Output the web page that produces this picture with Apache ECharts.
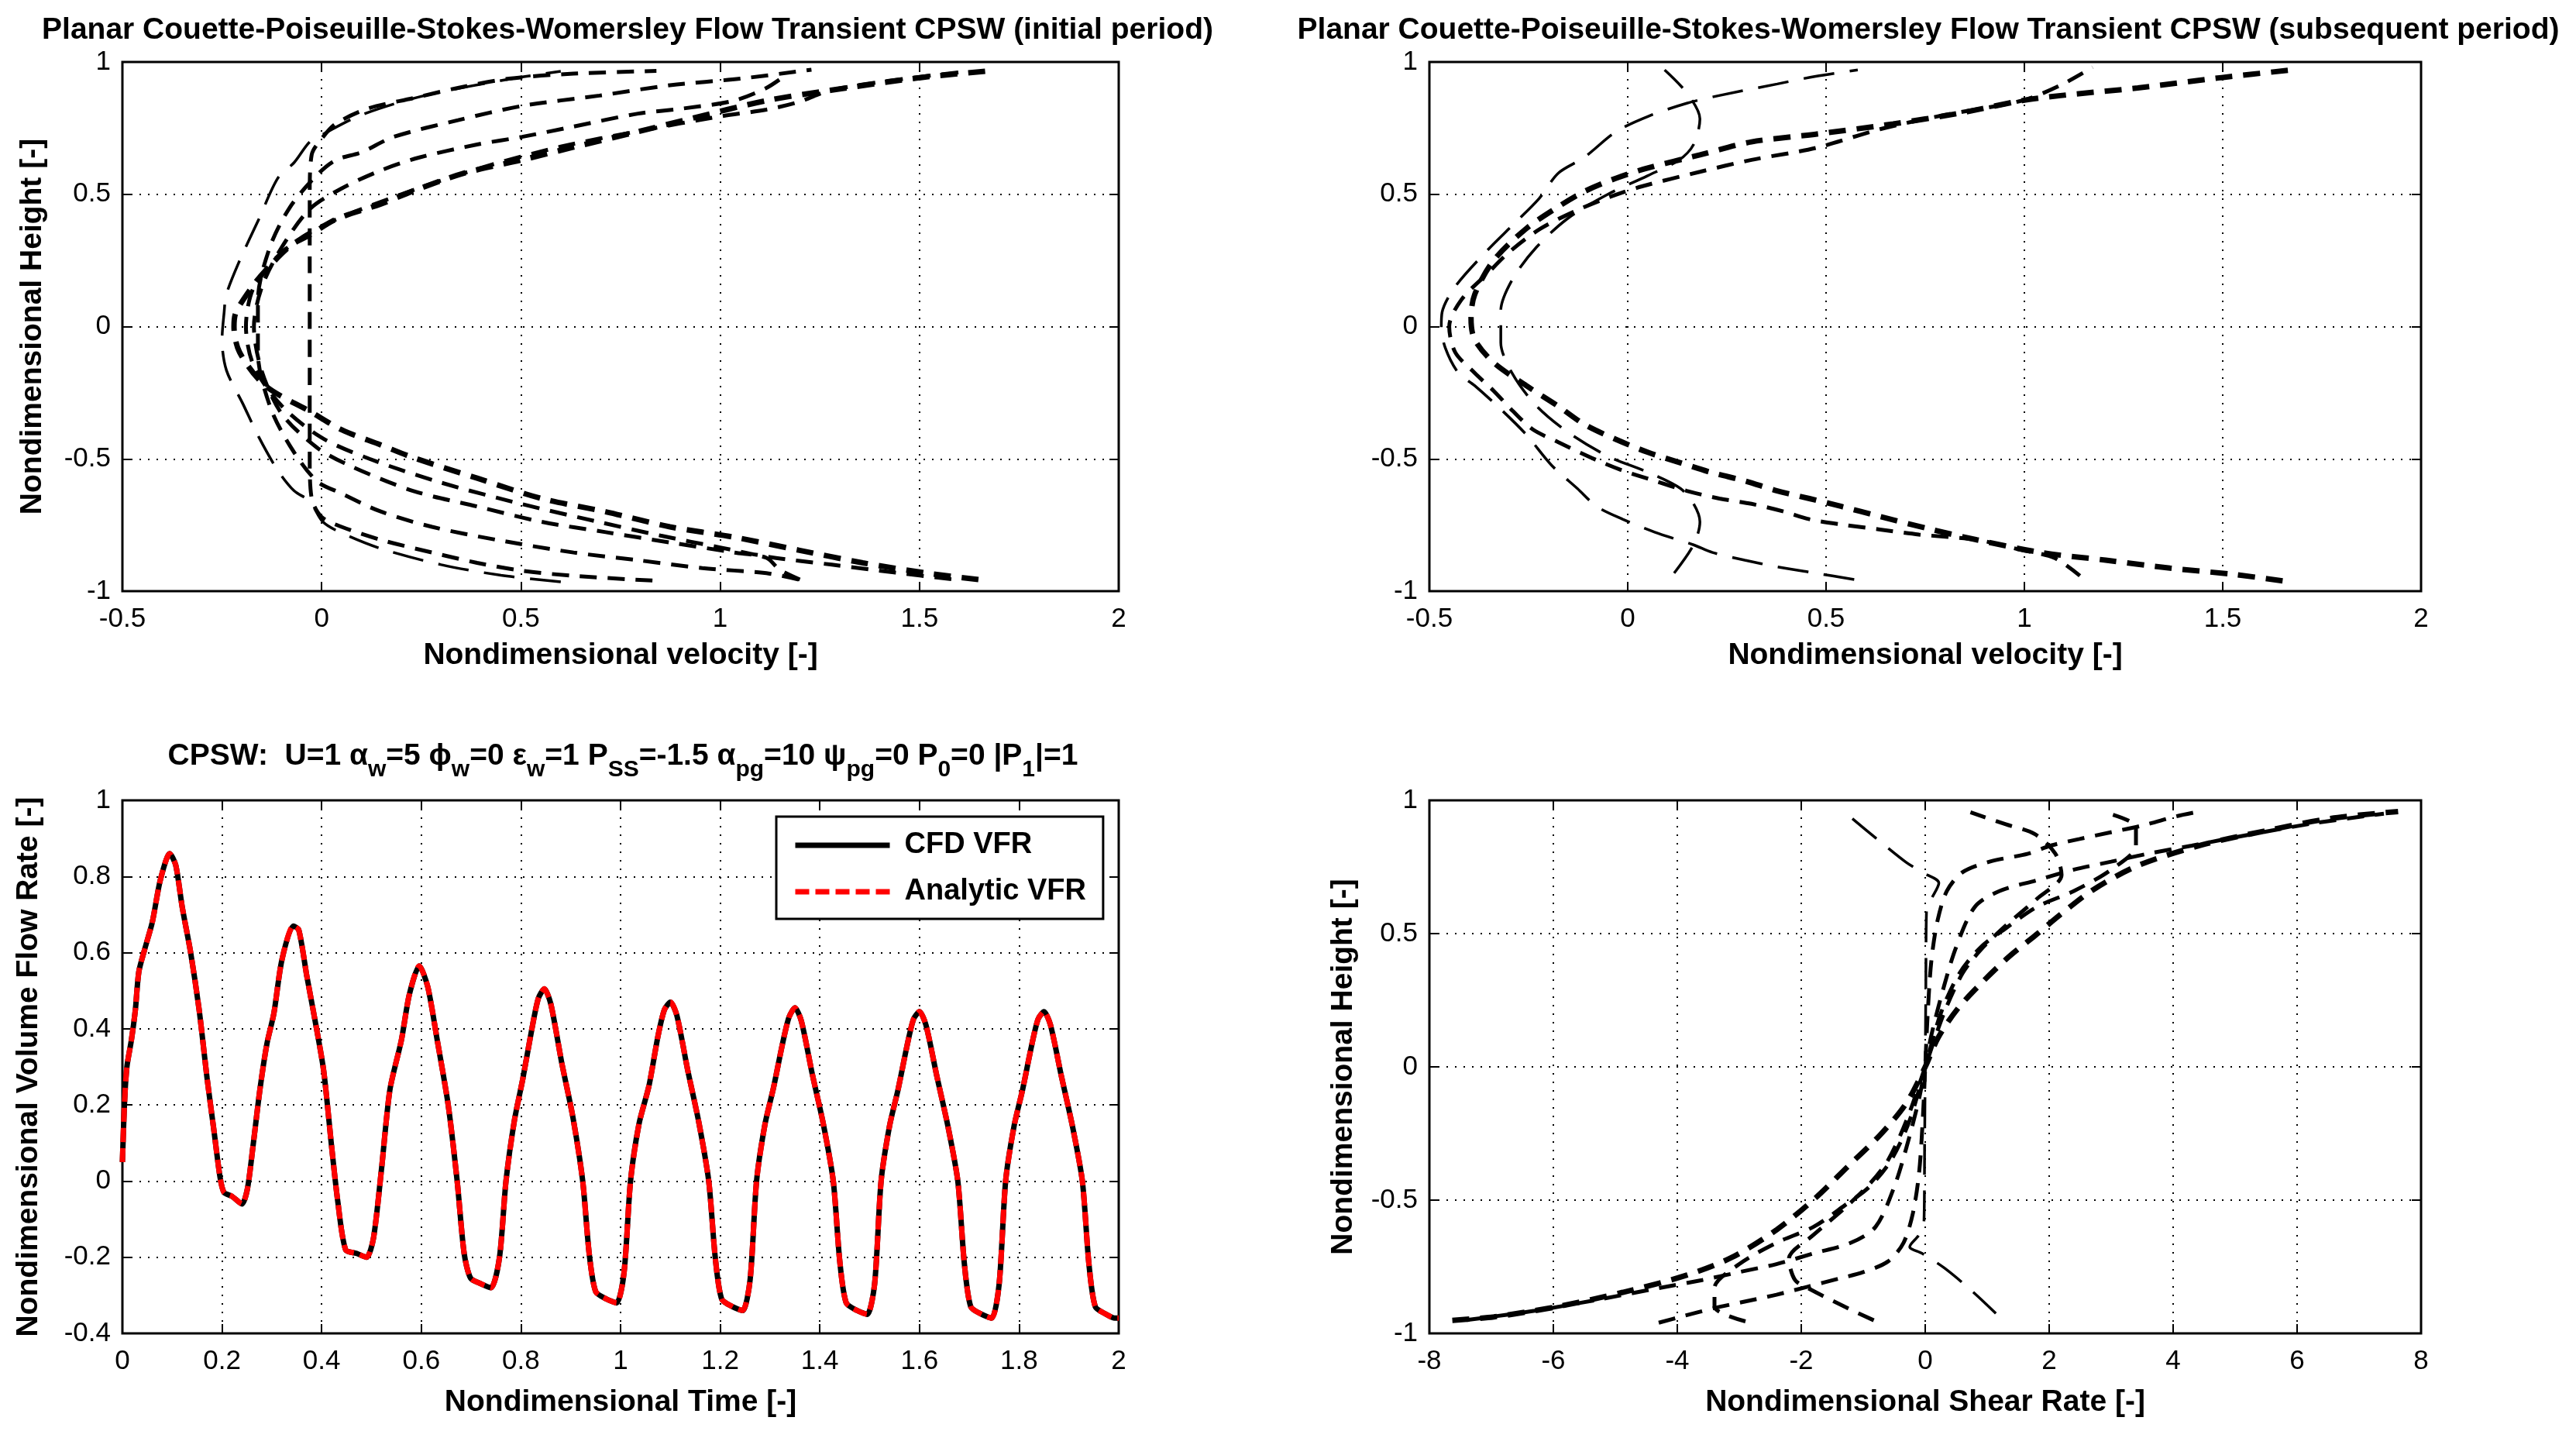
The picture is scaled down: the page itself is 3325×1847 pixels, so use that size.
<!DOCTYPE html>
<html>
<head>
<meta charset="utf-8">
<script src="https://cdn.jsdelivr.net/npm/echarts@6/dist/echarts.min.js"></script>
<style>
html, body { margin: 0; padding: 0; background: #fff; }
#chart { width: 3325px; height: 1847px; }
</style>
</head>
<body>
<div id="chart"></div>
<script>
// velocity profiles, initial period: [velocity, height]
const init1 = [[0.83,-0.96],[0.63,-0.942],[0.5,-0.922],[0.39,-0.893],[0.277,-0.854],[0.148,-0.806],[0.05,-0.757],[0.0,-0.72],[-0.025,-0.65],[-0.03,-0.5],[-0.03,-0.25],[-0.03,0],[-0.03,0.25],[-0.03,0.5],[-0.025,0.65],[0.0,0.71],[0.035,0.766],[0.116,0.824],[0.229,0.863],[0.342,0.902],[0.47,0.937],[0.632,0.956],[0.84,0.966]]
const init2 = [[0.6,-0.965],[0.45,-0.94],[0.3,-0.9],[0.15,-0.84],[0.05,-0.78],[0.003,-0.738],[-0.03,-0.66],[-0.069,-0.621],[-0.11,-0.544],[-0.158,-0.417],[-0.198,-0.291],[-0.239,-0.165],[-0.25,-0.05],[-0.245,0.05],[-0.239,0.122],[-0.206,0.249],[-0.158,0.405],[-0.11,0.561],[-0.069,0.62],[-0.03,0.698],[0.003,0.727],[0.1,0.8],[0.25,0.87],[0.45,0.93],[0.6,0.965]]
const init3 = [[1.197,-0.956],[1.116,-0.932],[0.955,-0.913],[0.794,-0.883],[0.632,-0.854],[0.439,-0.806],[0.277,-0.757],[0.148,-0.699],[0.05,-0.631],[-0.013,-0.583],[-0.08,-0.45],[-0.13,-0.3],[-0.16,-0.1],[-0.16,0.1],[-0.13,0.3],[-0.08,0.45],[-0.013,0.571],[0.035,0.629],[0.1,0.659],[0.181,0.717],[0.342,0.78],[0.503,0.834],[0.697,0.873],[0.874,0.912],[1.05,0.937],[1.229,0.971]]
const init4 = [[1.2,-0.956],[1.15,-0.92],[1.116,-0.874],[1.035,-0.854],[0.874,-0.816],[0.713,-0.777],[0.552,-0.738],[0.39,-0.68],[0.229,-0.621],[0.068,-0.524],[-0.013,-0.456],[-0.1,-0.33],[-0.15,-0.17],[-0.17,0],[-0.15,0.15],[-0.1,0.3],[-0.03,0.444],[0.05,0.522],[0.148,0.59],[0.245,0.639],[0.39,0.688],[0.503,0.717],[0.632,0.756],[0.794,0.805],[0.906,0.824],[1.035,0.854],[1.116,0.902],[1.165,0.951]]
const init5 = [[1.648,-0.956],[1.519,-0.932],[1.358,-0.893],[1.197,-0.845],[1.035,-0.796],[0.874,-0.757],[0.713,-0.7],[0.552,-0.65],[0.39,-0.573],[0.229,-0.495],[0.148,-0.447],[0.05,-0.39],[-0.03,-0.32],[-0.142,-0.223],[-0.206,-0.097],[-0.22,0],[-0.215,0.054],[-0.174,0.151],[-0.142,0.21],[-0.077,0.307],[-0.03,0.346],[0.035,0.405],[0.148,0.463],[0.229,0.512],[0.358,0.58],[0.503,0.63],[0.632,0.678],[0.794,0.737],[0.923,0.785],[1.116,0.854],[1.277,0.893],[1.503,0.941],[1.673,0.966]]
const init6 = [[1.58,-0.955],[1.44,-0.93],[1.28,-0.9],[1.12,-0.87],[1.0,-0.835],[0.85,-0.79],[0.7,-0.74],[0.5,-0.67],[0.3,-0.59],[0.12,-0.5],[0.0,-0.42],[-0.1,-0.3],[-0.17,-0.15],[-0.19,0],[-0.17,0.15],[-0.1,0.28],[0.0,0.38],[0.2,0.5],[0.4,0.6],[0.6,0.68],[0.8,0.74],[1.003,0.795],[1.116,0.82],[1.197,0.849],[1.277,0.893],[1.439,0.932],[1.6,0.961]]

// velocity profiles, subsequent period
const sub1 = [[0.571,-0.956],[0.474,-0.932],[0.377,-0.908],[0.295,-0.883],[0.214,-0.854],[0.166,-0.825],[0.068,-0.777],[-0.013,-0.728],[-0.078,-0.68],[-0.127,-0.612],[-0.192,-0.524],[-0.256,-0.408],[-0.321,-0.311],[-0.386,-0.223],[-0.427,-0.175],[-0.46,-0.08],[-0.47,0],[-0.468,0.054],[-0.435,0.151],[-0.354,0.288],[-0.289,0.385],[-0.224,0.483],[-0.175,0.58],[-0.11,0.639],[-0.029,0.737],[0.052,0.795],[0.149,0.844],[0.23,0.873],[0.377,0.917],[0.474,0.946],[0.58,0.97]]
const sub2 = [[0.117,-0.932],[0.166,-0.825],[0.182,-0.738],[0.166,-0.67],[0.133,-0.612],[0.05,-0.55],[-0.05,-0.49],[-0.15,-0.4],[-0.23,-0.3],[-0.29,-0.18],[-0.32,-0.06],[-0.32,0.06],[-0.29,0.18],[-0.23,0.3],[-0.15,0.41],[-0.05,0.5],[0.05,0.57],[0.13,0.63],[0.166,0.688],[0.182,0.785],[0.149,0.883],[0.093,0.97]]
const sub3 = [[1.651,-0.961],[1.529,-0.937],[1.367,-0.913],[1.205,-0.883],[1.042,-0.854],[0.88,-0.806],[0.766,-0.767],[0.636,-0.718],[0.539,-0.68],[0.458,-0.65],[0.377,-0.621],[0.295,-0.583],[0.214,-0.553],[0.133,-0.515],[0.052,-0.476],[-0.029,-0.427],[-0.11,-0.369],[-0.175,-0.301],[-0.256,-0.223],[-0.338,-0.136],[-0.386,-0.049],[-0.395,0.03],[-0.386,0.12],[-0.338,0.25],[-0.256,0.37],[-0.175,0.453],[-0.11,0.51],[-0.029,0.561],[0.052,0.6],[0.182,0.649],[0.312,0.698],[0.474,0.727],[0.669,0.766],[0.831,0.805],[0.994,0.854],[1.091,0.873],[1.286,0.902],[1.497,0.941],[1.675,0.97]]
const sub4 = [[1.14,-0.942],[1.075,-0.874],[0.994,-0.845],[0.88,-0.806],[0.734,-0.786],[0.636,-0.767],[0.539,-0.748],[0.458,-0.728],[0.393,-0.699],[0.312,-0.67],[0.231,-0.65],[0.149,-0.621],[0.068,-0.583],[-0.013,-0.544],[-0.078,-0.505],[-0.175,-0.437],[-0.24,-0.388],[-0.289,-0.32],[-0.338,-0.243],[-0.386,-0.175],[-0.435,-0.097],[-0.45,0],[-0.42,0.1],[-0.354,0.2],[-0.3,0.28],[-0.22,0.37],[-0.127,0.44],[-0.045,0.49],[0.036,0.53],[0.182,0.585],[0.312,0.63],[0.474,0.675],[0.636,0.746],[0.8,0.8],[0.994,0.854],[1.091,0.912],[1.172,0.98]]

// shear rate profiles: [shear rate, height]
const shr1 = [[-7.63,-0.951],[-6.96,-0.938],[-5.92,-0.899],[-4.88,-0.846],[-3.84,-0.781],[-3.12,-0.715],[-2.39,-0.61],[-1.77,-0.492],[-1.25,-0.374],[-0.73,-0.256],[-0.31,-0.138],[0,0],[0.21,0.11],[0.52,0.217],[0.93,0.32],[1.35,0.413],[1.77,0.492],[2.18,0.571],[2.7,0.663],[3.43,0.755],[4.47,0.833],[5.5,0.886],[6.54,0.932],[7.63,0.958]]
const shr2 = [[-4.3,-0.96],[-3.9,-0.935],[-3.4,-0.905],[-2.9,-0.88],[-2.4,-0.855],[-1.9,-0.825],[-1.4,-0.795],[-1.0,-0.77],[-0.6,-0.73],[-0.35,-0.66],[-0.2,-0.55],[-0.1,-0.4],[-0.04,-0.2],[0,0],[0.04,0.2],[0.1,0.4],[0.2,0.55],[0.35,0.66],[0.6,0.73],[1.04,0.77],[1.66,0.8],[2.02,0.83],[2.49,0.855],[3.01,0.881],[3.53,0.907],[4.05,0.94],[4.36,0.955]]
const shr3 = [[-7.4,-0.95],[-6.3,-0.915],[-5.2,-0.87],[-4.3,-0.83],[-3.6,-0.8],[-3.0,-0.77],[-2.4,-0.74],[-1.8,-0.7],[-1.2,-0.66],[-0.8,-0.6],[-0.5,-0.45],[-0.3,-0.3],[-0.1,-0.12],[0,0],[0.1,0.12],[0.3,0.3],[0.5,0.45],[0.8,0.6],[1.2,0.66],[1.8,0.7],[2.4,0.74],[3.0,0.77],[3.6,0.8],[4.3,0.83],[5.2,0.87],[6.3,0.915],[7.4,0.95]]
const shr4 = [[-2.9,-0.955],[-3.4,-0.9],[-3.4,-0.83],[-3.0,-0.74],[-2.4,-0.66],[-1.8,-0.6],[-1.3,-0.52],[-0.9,-0.45],[-0.55,-0.35],[-0.25,-0.2],[0,0],[0.25,0.2],[0.55,0.35],[0.9,0.45],[1.3,0.52],[1.8,0.6],[2.4,0.66],[3.0,0.74],[3.4,0.83],[3.4,0.9],[2.9,0.955]]
const shr5 = [[1.14,-0.925],[0.75,-0.84],[0.31,-0.755],[-0.05,-0.7],[-0.25,-0.675],[-0.1,-0.63],[-0.02,-0.58],[-0.01,-0.3],[0,0],[0.01,0.3],[0.02,0.58],[0.1,0.63],[0.22,0.69],[-0.05,0.73],[-0.31,0.768],[-0.73,0.846],[-1.3,0.955]]
const shr6 = [[-0.83,-0.951],[-1.3,-0.9],[-1.87,-0.833],[-2.1,-0.8],[-2.2,-0.72],[-1.8,-0.63],[-1.3,-0.53],[-0.9,-0.44],[-0.6,-0.35],[-0.3,-0.2],[0,0],[0.3,0.2],[0.6,0.35],[0.9,0.44],[1.3,0.53],[1.8,0.63],[2.2,0.72],[2.1,0.8],[1.77,0.873],[1.3,0.91],[0.73,0.955]]

// volume flow rate history
const vfrTime = [0,0.004,0.009,0.018,0.026,0.033,0.045,0.06,0.076,0.095,0.107,0.12,0.137,0.154,0.17,0.184,0.196,0.204,0.22,0.24,0.251,0.262,0.276,0.29,0.304,0.32,0.343,0.354,0.37,0.387,0.404,0.42,0.432,0.448,0.47,0.49,0.504,0.52,0.537,0.56,0.576,0.596,0.613,0.632,0.654,0.672,0.686,0.699,0.72,0.74,0.757,
  0.77,0.787,0.804,0.822,0.835,0.847,0.86,0.882,0.904,0.924,0.937,0.95,0.972,0.992,1.007,
  1.02,1.037,1.057,1.075,1.088,1.1,1.113,1.135,1.157,1.177,1.19,1.203,1.225,1.245,1.26,
  1.273,1.29,1.307,1.325,1.338,1.35,1.363,1.385,1.407,1.427,1.44,1.453,1.475,1.495,1.51,
  1.523,1.54,1.557,1.575,1.588,1.6,1.613,1.635,1.657,1.677,1.69,1.703,1.725,1.745,1.76,
  1.773,1.79,1.807,1.825,1.838,1.85,1.863,1.885,1.907,1.927,1.94,1.953,1.975,1.992,2.0]
const vfrCfd = [0.05,0.2,0.3,0.37,0.45,0.55,0.61,0.68,0.79,0.86,0.83,0.72,0.6,0.45,0.27,0.13,0.01,-0.03,-0.04,-0.06,-0.02,0.09,0.24,0.36,0.44,0.58,0.67,0.66,0.54,0.42,0.29,0.09,-0.05,-0.18,-0.19,-0.2,-0.15,0.03,0.24,0.37,0.49,0.565,0.51,0.37,0.2,0.0,-0.19,-0.255,-0.27,-0.28,-0.2,
  0.0,0.16,0.27,0.4,0.48,0.505,0.465,0.31,0.17,0.0,-0.19,-0.29,-0.31,-0.32,-0.24,
  0.0,0.15,0.25,0.38,0.45,0.47,0.435,0.29,0.155,0.0,-0.2,-0.31,-0.33,-0.34,-0.26,
  0.0,0.15,0.245,0.36,0.43,0.455,0.42,0.28,0.15,0.0,-0.21,-0.32,-0.34,-0.35,-0.27,
  0.0,0.145,0.24,0.355,0.425,0.445,0.41,0.275,0.145,0.0,-0.215,-0.33,-0.35,-0.36,-0.27,
  0.0,0.145,0.24,0.355,0.425,0.445,0.41,0.275,0.145,0.0,-0.215,-0.33,-0.35,-0.36,-0.36]
// analytic curve lies on the CFD one at plot resolution
const vfrAnalytic = vfrCfd

const FONT = 'Liberation Sans, Arial, Helvetica, sans-serif'
const grids = [
    { left: 158, top: 80, width: 1286, height: 683 },
    { left: 1845, top: 80, width: 1280, height: 683 },
    { left: 158, top: 1033, width: 1286, height: 688 },
    { left: 1845, top: 1033, width: 1280, height: 688 }
].map(g => ({ ...g, show: true, borderColor: '#000', borderWidth: 3, backgroundColor: '#fff', outerBoundsMode: 'none' }))

const xRanges = [[-0.5, 2, 0.5], [-0.5, 2, 0.5], [0, 2, 0.2], [-8, 8, 2]]
const yRanges = [[-1, 1, 0.5], [-1, 1, 0.5], [-0.4, 1, 0.2], [-1, 1, 0.5]]
const xNames = ['Nondimensional velocity [-]', 'Nondimensional velocity [-]', 'Nondimensional Time [-]', 'Nondimensional Shear Rate [-]']
const yNames = ['Nondimensional Height [-]', '', 'Nondimensional Volume Flow Rate [-]', 'Nondimensional Height [-]']
const yNameGaps = [96, 0, 101, 91]

const nameStyle = { fontFamily: FONT, fontSize: 39, fontWeight: 'bold', color: '#000' }
const tickFont = { fontFamily: FONT, fontSize: 35, color: '#000' }
const dotted = { color: '#000', width: 2, type: [2, 9] }

function axis(range, opts) {
    return {
        type: 'value', min: range[0], max: range[1], interval: range[2],
        axisLine: { show: false, onZero: false },
        axisTick: { show: true, inside: true, length: 12, lineStyle: { color: '#000', width: 2 } },
        ...opts
    }
}

const xAxis = []
const yAxis = []
for (let i = 0; i < 4; i++) {
    xAxis.push(axis(xRanges[i], {
        gridIndex: i, position: 'bottom',
        name: xNames[i], nameLocation: 'middle', nameGap: i < 2 ? 64 : 70, nameTextStyle: nameStyle,
        axisLabel: { margin: 19, ...tickFont },
        splitLine: { show: true, lineStyle: dotted }
    }))
    yAxis.push(axis(yRanges[i], {
        gridIndex: i, position: 'left',
        name: yNames[i], nameLocation: 'middle', nameRotate: 90, nameGap: yNameGaps[i], nameTextStyle: nameStyle,
        axisLabel: { margin: 15, ...tickFont },
        splitLine: { show: true, lineStyle: dotted }
    }))
}
// box ticks on top and right
for (let i = 0; i < 4; i++) {
    xAxis.push(axis(xRanges[i], { gridIndex: i, position: 'top', axisLabel: { show: false }, splitLine: { show: false } }))
    yAxis.push(axis(yRanges[i], { gridIndex: i, position: 'right', axisLabel: { show: false }, splitLine: { show: false } }))
}

const dash = { color: '#000', width: 5, type: [22, 14] }
const dashThick = { color: '#000', width: 7, type: [22, 14] }
const longDash = { color: '#000', width: 3.5, type: [40, 20] }

function profile(data, gi, style) {
    return { type: 'line', xAxisIndex: gi, yAxisIndex: gi, data, symbol: 'none', smooth: 0.3, silent: true, lineStyle: style }
}

const vfrCfdData = vfrTime.map((t, i) => [t, vfrCfd[i]])
const vfrAnalyticData = vfrTime.map((t, i) => [t, vfrAnalytic[i]])

const series = [
    profile(init1, 0, dash), profile(init2, 0, longDash), profile(init3, 0, dash),
    profile(init4, 0, dash), profile(init5, 0, dashThick), profile(init6, 0, dash),
    profile(sub1, 1, longDash), profile(sub2, 1, longDash), profile(sub3, 1, dashThick), profile(sub4, 1, dash),
    profile(shr1, 3, dashThick), profile(shr2, 3, dash), profile(shr3, 3, dash),
    profile(shr4, 3, dash), profile(shr5, 3, longDash), profile(shr6, 3, dash),
    {
        name: 'CFD VFR', type: 'line', xAxisIndex: 2, yAxisIndex: 2, data: vfrCfdData,
        symbol: 'none', smooth: 0.25, lineStyle: { color: '#000', width: 7, type: 'solid' }, itemStyle: { color: '#000' }
    },
    {
        name: 'Analytic VFR', type: 'line', xAxisIndex: 2, yAxisIndex: 2, data: vfrAnalyticData,
        symbol: 'none', smooth: 0.25, lineStyle: { color: '#ff0000', width: 7, type: [18, 8] }, itemStyle: { color: '#ff0000' }
    }
]

const titleStyle = { fontFamily: FONT, fontSize: 39, fontWeight: 'bold', color: '#000' }
const option = {
    backgroundColor: '#fff',
    animation: false,
    title: [
        { text: 'Planar Couette-Poiseuille-Stokes-Womersley Flow Transient CPSW (initial period)', left: 805, top: 15, textAlign: 'center', textStyle: titleStyle },
        { text: 'Planar Couette-Poiseuille-Stokes-Womersley Flow Transient CPSW (subsequent period)', left: 2484, top: 15, textAlign: 'center', textStyle: titleStyle },
        {
            text: '{m|CPSW:  U=1 α}{s|w}{m|=5 ϕ}{s|w}{m|=0 ε}{s|w}{m|=1 P}{s|SS}{m|=-1.5 α}{s|pg}{m|=10 ψ}{s|pg}{m|=0 P}{s|0}{m|=0 |P}{s|1}{m||=1}',
            left: 799, top: 952, textAlign: 'center',
            textStyle: {
                rich: {
                    m: { fontFamily: FONT, fontSize: 39, fontWeight: 'bold', color: '#000', lineHeight: 44, verticalAlign: 'top' },
                    s: { fontFamily: FONT, fontSize: 30, fontWeight: 'bold', color: '#000', lineHeight: 30, padding: [22, 0, 0, 0], verticalAlign: 'top' }
                }
            }
        }
    ],
    legend: {
        data: ['CFD VFR', 'Analytic VFR'],
        orient: 'vertical', left: 1002, top: 1054,
        padding: [18, 22, 16, 21], itemGap: 22, itemWidth: 122, itemHeight: 34,
        borderColor: '#000', borderWidth: 3, backgroundColor: '#fff',
        itemStyle: { opacity: 0 },
        lineStyle: { width: 7, opacity: 1 },
        textStyle: { fontFamily: FONT, fontSize: 38, fontWeight: 'bold', color: '#000', padding: [0, 0, 0, 14] }
    },
    grid: grids,
    xAxis,
    yAxis,
    series
}

const chart = echarts.init(document.getElementById('chart'), null, { renderer: 'canvas' })
chart.setOption(option)
</script>
</body>
</html>
